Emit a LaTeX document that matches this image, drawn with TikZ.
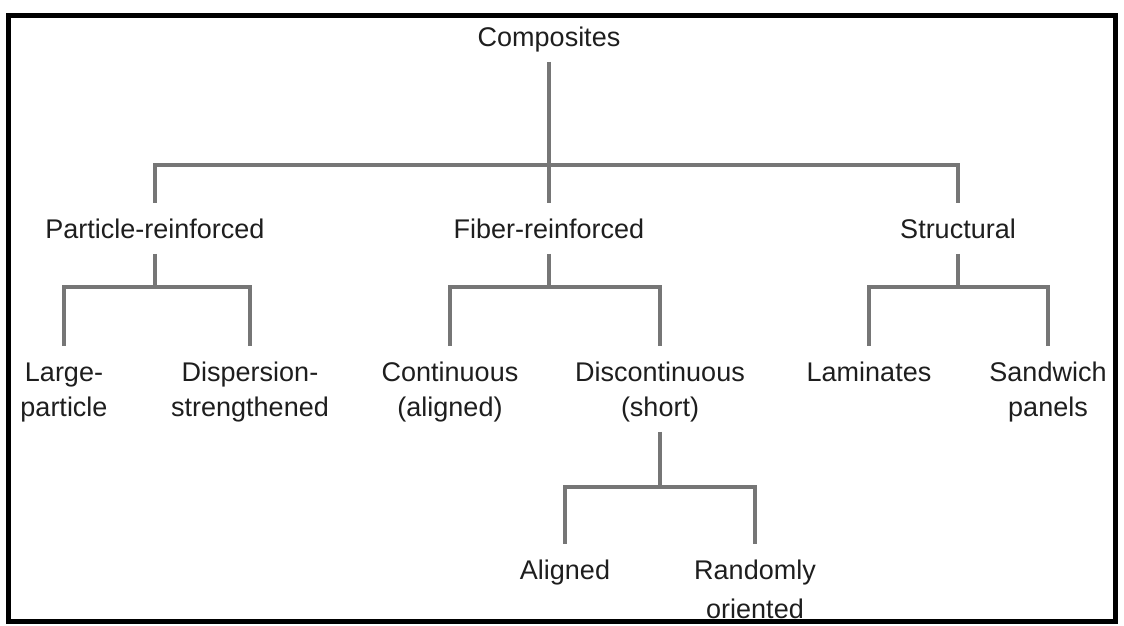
\documentclass[tikz,border=0pt]{standalone}
\usepackage{fontspec}
\setmainfont{Liberation Sans}
\definecolor{lin}{HTML}{767676}
\definecolor{txt}{HTML}{1E1E1E}
\begin{document}
\begin{tikzpicture}[x=1pt,y=-1pt,
  lbl/.style={anchor=north, inner sep=0pt, align=center, text=txt,
              font=\fontsize{27}{35}\selectfont},
  conn/.style={draw=lin, line width=3.4pt}]
\useasboundingbox (0,0) rectangle (1124,625);
\fill[white] (0,0) rectangle (1124,625);
\draw[line width=5pt] (8.5,15) rectangle (1115,621.5);

% nodes
\node[lbl] (comp) at (549,21.5) {\strut Composites};
\node[lbl] (pr) at (155,213.5) {\strut Particle-reinforced};
\node[lbl] (fr) at (549,213.5) {\strut Fiber-reinforced};
\node[lbl] (st) at (958,213.5) {\strut Structural};
\node[lbl] (lp) at (64,356.5) {\strut Large-\\\strut particle};
\node[lbl] (ds) at (250,356.5) {\strut Dispersion-\\\strut strengthened};
\node[lbl] (co) at (450,356.5) {\strut Continuous\\\strut (aligned)};
\node[lbl] (dc) at (660,356.5) {\strut Discontinuous\\\strut (short)};
\node[lbl] (la) at (869,356.5) {\strut Laminates};
\node[lbl] (sw) at (1048,356.5) {\strut Sandwich\\\strut panels};
\node[lbl] (al) at (565,554.5) {\strut Aligned};
\node[lbl] (ro) at (755,554.5) {\strut Randomly\\[4pt]\strut oriented};

% bar levels
\coordinate (b1) at (0,165);
\coordinate (b2) at (0,287);
\coordinate (b3) at (0,487);

% level 1
\draw[conn] ([yshift=-5pt]comp.south) -- (comp.south |- b1);
\draw[conn] ([yshift=11pt]pr.north) -- (pr.north |- b1) -- (st.north |- b1) -- ([yshift=11pt]st.north);
\draw[conn] (fr.north |- b1) -- ([yshift=11pt]fr.north);

% particle-reinforced
\draw[conn] ([yshift=-5pt]pr.south) -- (pr.south |- b2);
\draw[conn] ([yshift=11pt]lp.north) -- (lp.north |- b2) -- (ds.north |- b2) -- ([yshift=11pt]ds.north);

% fiber-reinforced
\draw[conn] ([yshift=-5pt]fr.south) -- (fr.south |- b2);
\draw[conn] ([yshift=11pt]co.north) -- (co.north |- b2) -- (dc.north |- b2) -- ([yshift=11pt]dc.north);

% structural
\draw[conn] ([yshift=-5pt]st.south) -- (st.south |- b2);
\draw[conn] ([yshift=11pt]la.north) -- (la.north |- b2) -- (sw.north |- b2) -- ([yshift=11pt]sw.north);

% discontinuous
\draw[conn] ([yshift=-5pt]dc.south) -- (dc.south |- b3);
\draw[conn] ([yshift=11pt]al.north) -- (al.north |- b3) -- (ro.north |- b3) -- ([yshift=11pt]ro.north);
\end{tikzpicture}
\end{document}
